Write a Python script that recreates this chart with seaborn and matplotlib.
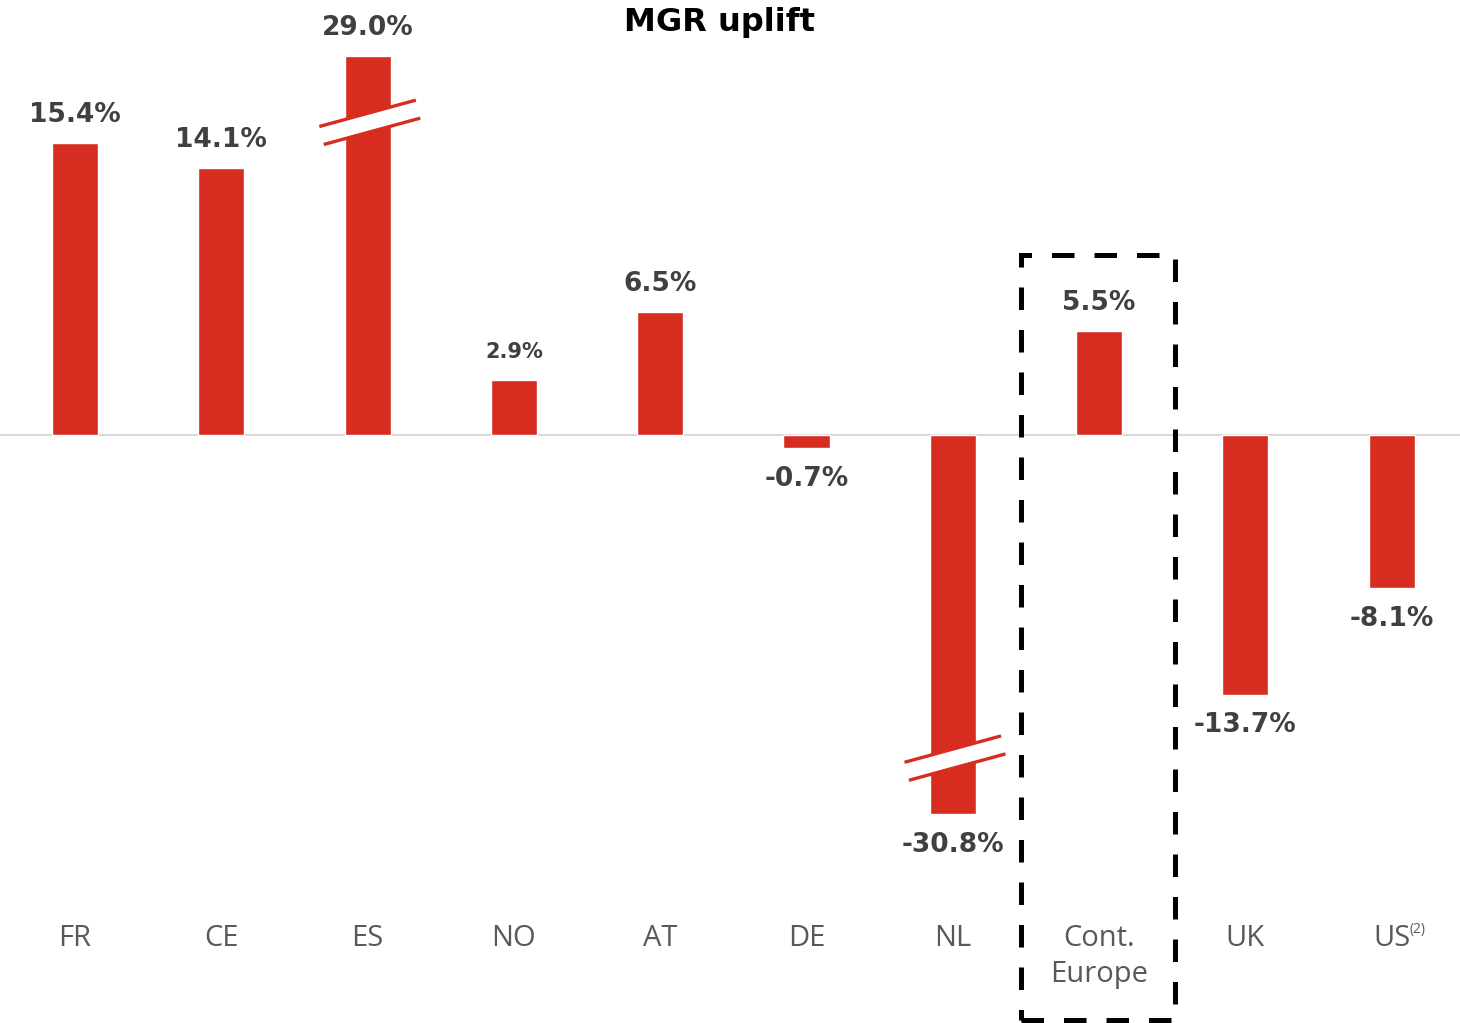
import numpy as np
import matplotlib
matplotlib.use("Agg")
import matplotlib.pyplot as plt
from matplotlib.patches import Rectangle, Polygon
import seaborn as sns

# MGR uplift by market (%)
categories = ["FR", "CE", "ES", "NO", "AT", "DE", "NL", "Cont.\nEurope", "UK", "US"]
uplift = [15.4, 14.1, 29.0, 2.9, 6.5, -0.7, -30.8, 5.5, -13.7, -8.1]
value_labels = ["15.4%", "14.1%", "29.0%", "2.9%", "6.5%", "-0.7%", "-30.8%", "5.5%", "-13.7%", "-8.1%"]

# bars taller than this are drawn on a broken axis
AXIS_CAP = 20.0

RED = "#D62D20"
LABEL_DARK = "#404040"
LABEL_GREY = "#595959"

sns.set_theme(style="white")
plt.rcParams["font.family"] = ["DejaVu Sans"]

fig = plt.figure(figsize=(14.6, 10.23), dpi=100)
W, H = 1460, 1023
zero_px = 435
px_per_pct = 18.95
ax_bottom_px = 900
ax = fig.add_axes([0, 1 - ax_bottom_px / H, 1, ax_bottom_px / H])

values = np.array(uplift)
shown = np.clip(values, -AXIS_CAP, AXIS_CAP)

sns.barplot(x=categories, y=shown, color=RED, saturation=1, width=0.315,
            ax=ax, zorder=2)

x0_px, step_px = 75, 146.3
ax.set_xlim(-x0_px / step_px, (W - x0_px) / step_px)
ax.set_ylim(-(ax_bottom_px - zero_px) / px_per_pct, zero_px / px_per_pct)

ax.axhline(0, color="#D9D9D9", lw=1.5, zorder=1)

for s in ax.spines.values():
    s.set_visible(False)
ax.set_yticks([])
ax.set_ylabel("")
ax.tick_params(axis="x", length=0, pad=17.5)
ax.set_xticks(range(len(categories)))
ax.set_xticklabels(categories, fontsize=21, color=LABEL_GREY,
                   family=["Open Sans", "DejaVu Sans"], linespacing=1.32)

# superscript note on US
ax.annotate("(2)", xy=(9, ax.get_ylim()[0]), xycoords="data",
            xytext=(12.5, -16), textcoords="offset points",
            fontsize=10, color=LABEL_GREY, family=["Open Sans", "DejaVu Sans"],
            ha="left", va="top", annotation_clip=False)

# value labels
for i, (v, s, lab) in enumerate(zip(values, shown, value_labels)):
    size = 15 if i == 3 else 19
    off = 20 if v >= 0 else -22
    ax.annotate(lab, xy=(i, s), xytext=(0, off), textcoords="offset points",
                ha="center", va="center", fontsize=size, fontweight="bold",
                color=LABEL_DARK, zorder=5)

# break marks on capped bars
half = 0.33
slope = 2.11
gap = 0.95
for i, (v, s) in enumerate(zip(values, shown)):
    if abs(v) <= AXIS_CAP:
        continue
    c = 16.5 if v > 0 else -17.05
    xs = np.array([i - half, i + half])
    up = c + gap / 2 + slope * (xs - i)
    lo = c - gap / 2 + slope * (xs - i)
    ax.add_patch(Polygon([[xs[0], lo[0]], [xs[1], lo[1]], [xs[1], up[1]], [xs[0], up[0]]],
                         closed=True, facecolor="white", edgecolor="none", zorder=3))
    ax.plot(xs, up, color=RED, lw=2.4, zorder=4, solid_capstyle="butt")
    ax.plot(xs + 0.03, lo, color=RED, lw=2.4, zorder=4, solid_capstyle="butt")

# dashed frame around Continental Europe
bx0 = (1021 - x0_px) / step_px
bx1 = (1175 - x0_px) / step_px
by1 = (zero_px - 255) / px_per_pct
by0 = (zero_px - 1020) / px_per_pct
ax.add_patch(Rectangle((bx0, by0), bx1 - bx0, by1 - by0, fill=False,
                       edgecolor="black", lw=3.6, linestyle=(0, (4.5, 4)),
                       clip_on=False, zorder=6))

fig.text(720 / W, 1 - 23 / H, "MGR uplift", ha="center", va="center",
         fontsize=23, fontweight="bold", color="black")

fig.savefig("out.png", dpi=100)
